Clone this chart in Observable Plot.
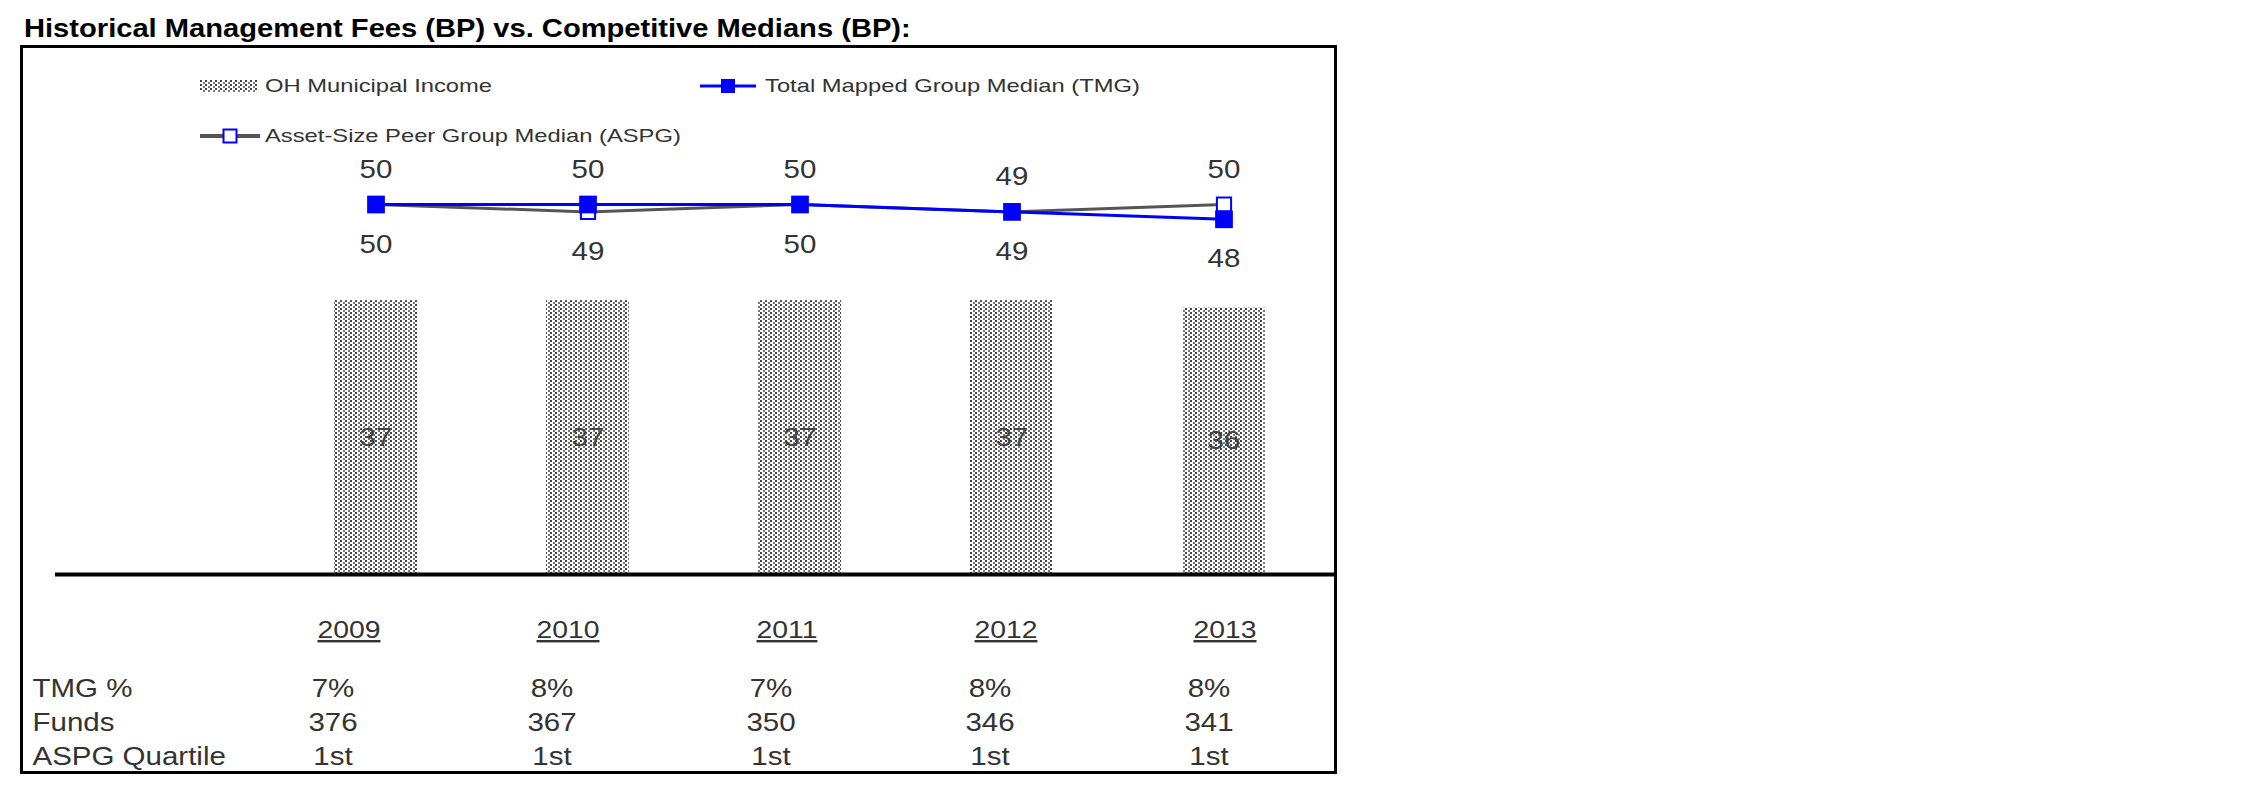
<!DOCTYPE html>
<html><head><meta charset="utf-8">
<script src="https://cdn.jsdelivr.net/npm/d3@7"></script>
<script src="https://cdn.jsdelivr.net/npm/@observablehq/plot@0.6"></script>
<style>
body{margin:0;background:#fff;}
#wrap{position:relative;width:2250px;height:796px;overflow:hidden;font-family:"Liberation Sans",Arial,sans-serif;}
#title{position:absolute;left:24px;top:12px;font-weight:bold;font-size:26px;line-height:32px;color:#000;transform:scaleX(1.12);transform-origin:left center;white-space:nowrap;}
.lg{position:absolute;font-size:19px;line-height:24px;color:#333;transform:scaleX(1.25);transform-origin:left center;white-space:nowrap;}
.sw{position:absolute;overflow:visible;}
#plotA{position:absolute;left:0;top:0;}
#plotB{position:absolute;left:0;top:590px;}
</style></head><body>
<div id="wrap">
  <div id="plotA"></div>
  <div id="plotB"></div>
  <div id="title">Historical Management Fees (BP) vs. Competitive Medians (BP):</div>
  <svg class="sw" style="left:200px;top:80px" width="58" height="12">
    <defs><pattern id="lgDots" patternUnits="userSpaceOnUse" width="5" height="4">
      <rect width="5" height="4" fill="#fff"/><rect x="0" y="0" width="2" height="2" fill="#444"/>
      <rect x="3" y="2" width="2" height="2" fill="#777"/>
    </pattern></defs>
    <rect width="58" height="12" fill="url(#lgDots)"/>
  </svg>
  <div class="lg" style="left:265px;top:74px">OH Municipal Income</div>
  <svg class="sw" style="left:700px;top:78px" width="56" height="16">
    <line x1="0" y1="8" x2="56" y2="8" stroke="#0000ff" stroke-width="3"/>
    <rect x="21" y="1" width="14" height="14" fill="#0000ff"/>
  </svg>
  <div class="lg" style="left:765px;top:74px">Total Mapped Group Median (TMG)</div>
  <svg class="sw" style="left:200px;top:128px" width="60" height="16">
    <line x1="0" y1="8" x2="60" y2="8" stroke="#555" stroke-width="4"/>
    <rect x="23.5" y="1.5" width="13" height="13" fill="#fff" stroke="#0000ff" stroke-width="2"/>
  </svg>
  <div class="lg" style="left:265px;top:124px">Asset-Size Peer Group Median (ASPG)</div>
</div>
<script>
const years = ["2009", "2010", "2011", "2012", "2013"];
const ohIncome = [37, 37, 37, 37, 36];
const tmgMedian = [50, 50, 50, 49, 48];
const aspgMedian = [50, 49, 50, 49, 50];
const rowLabels = ["TMG %", "Funds", "ASPG Quartile"];
const tmgPct = ["7%", "8%", "7%", "8%", "8%"];
const funds = [376, 367, 350, 346, 341];
const aspgQuartile = ["1st", "1st", "1st", "1st", "1st"];

const FONT = "Liberation Sans, Arial, sans-serif";
const K = 1.18;

const rows = years.map((year, i) => ({
  year, oh: ohIncome[i], tmg: tmgMedian[i], aspg: aspgMedian[i],
  hi: Math.max(tmgMedian[i], aspgMedian[i]), lo: Math.min(tmgMedian[i], aspgMedian[i])
}));

const A = Plot.plot({
  width: 2250, height: 796,
  marginLeft: 21, marginTop: 46, marginRight: 915, marginBottom: 24,
  style: {background: "transparent", fontFamily: FONT},
  x: {type: "band", domain: years, range: [269, 1330], paddingInner: 0.61, paddingOuter: 0.305, axis: null},
  y: {domain: [0, 60], range: [574, 130], axis: null},
  marks: [
    Plot.barY(rows, {x: "year", y: "oh", fill: "url(#ohDots)"}),
    Plot.text(rows, {x: "year", y: d => d.oh / 2, text: d => String(d.oh), fontSize: 25, fill: "#444"}),
    Plot.ruleY([0], {insetLeft: 34, stroke: "#000", strokeWidth: 4}),
    Plot.frame({stroke: "#000", strokeWidth: 3}),
    Plot.lineY(rows, {x: "year", y: "aspg", stroke: "#555", strokeWidth: 3}),
    Plot.lineY(rows, {x: "year", y: "tmg", stroke: "#0000ff", strokeWidth: 3}),
    Plot.dot(rows, {x: "year", y: "aspg", symbol: "square", r: 8, fill: "white", stroke: "#0000ff", strokeWidth: 2}),
    Plot.dot(rows, {x: "year", y: "tmg", symbol: "square", r: 10, fill: "#0000ff"}),
    Plot.text(rows, {x: "year", y: "hi", text: d => String(d.hi), dy: -35, fontSize: 25, fill: "#333"}),
    Plot.text(rows, {x: "year", y: "lo", text: d => String(d.lo), dy: 40, fontSize: 25, fill: "#333"})
  ]
});

const defs = d3.select(A).insert("defs", ":first-child");
const pat = defs.append("pattern").attr("id", "ohDots").attr("patternUnits", "userSpaceOnUse").attr("width", 5).attr("height", 4);
pat.append("rect").attr("width", 5).attr("height", 4).attr("fill", "#fff");
pat.append("rect").attr("x", 0).attr("y", 0).attr("width", 2).attr("height", 2).attr("fill", "#444");
pat.append("rect").attr("x", 3).attr("y", 2).attr("width", 2).attr("height", 2).attr("fill", "#777");

const cells = [];
years.forEach((year, i) => {
  cells.push({year, row: rowLabels[0], text: tmgPct[i]});
  cells.push({year, row: rowLabels[1], text: String(funds[i])});
  cells.push({year, row: rowLabels[2], text: aspgQuartile[i]});
});

const B = Plot.plot({
  width: 2250, height: 206,
  marginLeft: 32, marginTop: 0, marginRight: 0, marginBottom: 0,
  style: {background: "transparent", fontFamily: FONT},
  x: {type: "band", domain: years, range: [222.5, 1317.5], padding: 0, axis: null},
  y: {type: "point", domain: rowLabels, range: [98, 166], padding: 0, axis: null},
  marks: [
    Plot.text(years, {x: d => d, text: d => d, frameAnchor: "top", lineAnchor: "middle", dy: 40, dx: 16, fontSize: 24, fill: "#333"}),
    Plot.text(rowLabels, {y: d => d, text: d => d, frameAnchor: "left", textAnchor: "start", fontSize: 25, fill: "#333"}),
    Plot.text(cells, {x: "year", y: "row", text: "text", fontSize: 25, fill: "#333"})
  ]
});

document.getElementById("plotA").appendChild(A);
document.getElementById("plotB").appendChild(B);

function stretch(svg) {
  svg.querySelectorAll("text").forEach(t => {
    const tr = t.getAttribute("transform") || "";
    t.setAttribute("transform", tr + ` scale(${K},1)`);
  });
}
stretch(A); stretch(B);
B.querySelectorAll("text").forEach(t => {
  if (years.includes(t.textContent)) {
    t.style.textDecoration = "underline";
    t.style.textDecorationThickness = "3px";
  }
});
</script>
</body></html>
